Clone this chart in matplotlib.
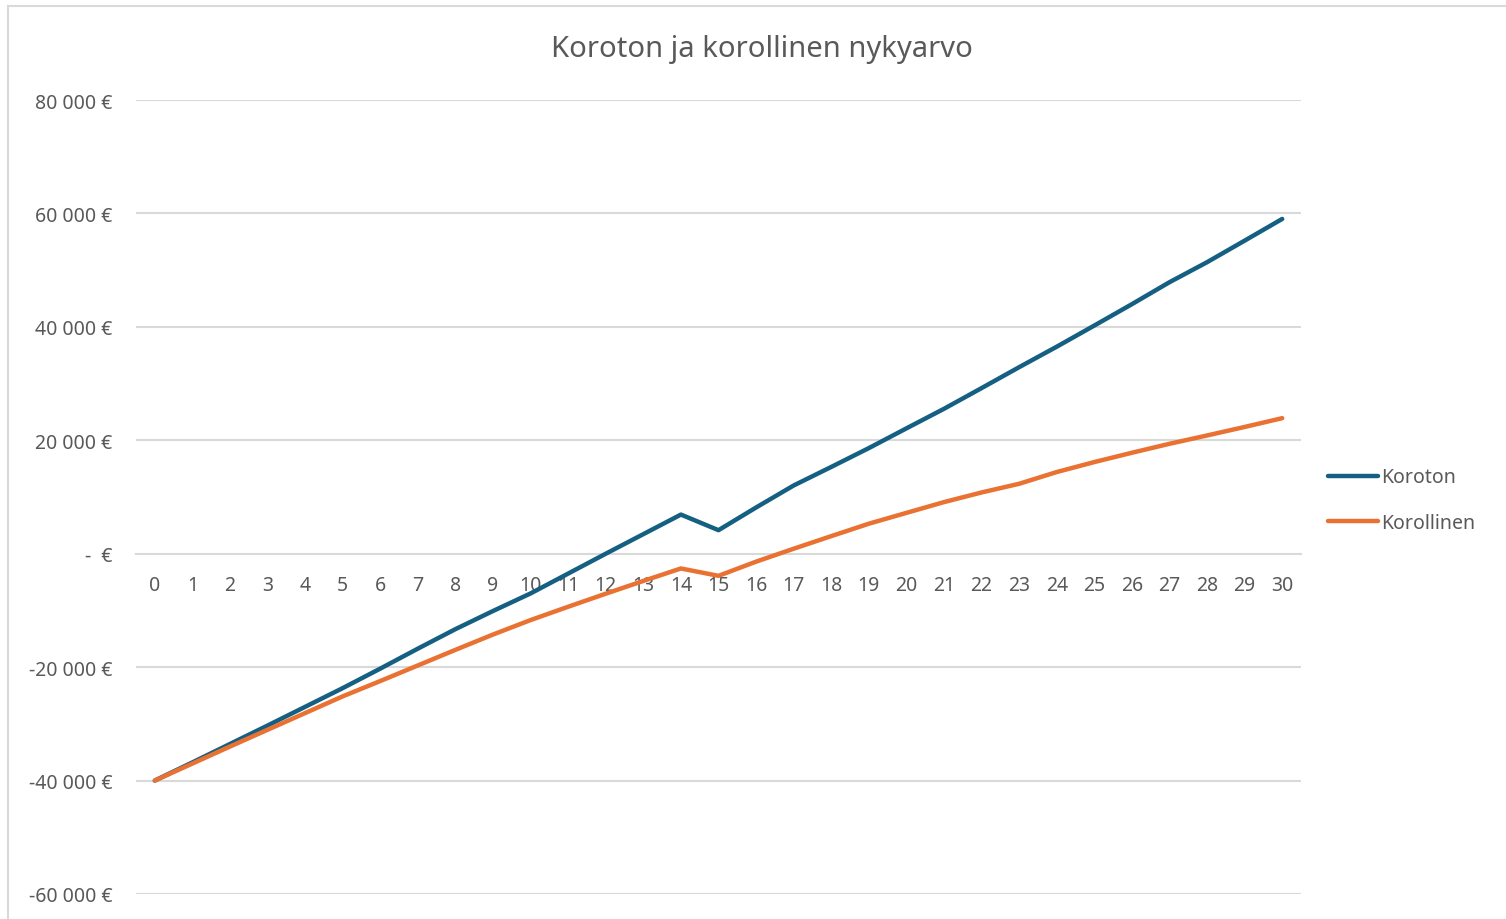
import matplotlib
matplotlib.use("Agg")
import matplotlib.pyplot as plt
from matplotlib.lines import Line2D

years = list(range(0, 31))
koroton = [-40000, -36800, -33550, -30300, -27000, -23700, -20260, -16740, -13300, -10100,
           -7000, -3500, 0, 3450, 6900, 4150, 8150, 12030, 15300, 18620,
           22100, 25550, 29200, 32890, 36500, 40230, 44000, 47870, 51400, 55200, 59030]
korollinen = [-40000, -37000, -34000, -31050, -28100, -25150, -22450, -19700, -16950, -14250,
              -11700, -9350, -7050, -4800, -2600, -3900, -1400, 880, 3100, 5290,
              7200, 9100, 10800, 12330, 14400, 16160, 17800, 19380, 20850, 22350, 23900]
yticks = [-60000, -40000, -20000, 0, 20000, 40000, 60000, 80000]
series_names = ["Koroton", "Korollinen"]
title = "Koroton ja korollinen nykyarvo"

BLUE = "#156082"
ORANGE = "#E97132"
GRID = "#D9D9D9"
TXT = "#595959"

plt.rcParams['font.family'] = ['Noto Sans', 'DejaVu Sans']

W, H = 1506, 920
fig = plt.figure(figsize=(W / 100, H / 100), dpi=100)

# chart border (light gray)
fig.add_artist(Line2D([8 / W, 1505 / W], [1 - 7 / H, 1 - 7 / H], color="#D9D9D9", lw=1.5))
fig.add_artist(Line2D([8 / W, 8 / W], [0, 1 - 7 / H], color="#D9D9D9", lw=1.5))

ax = fig.add_axes([136 / W, 1 - 895 / H, (1301 - 136) / W, (895 - 101) / H])
ax.set_xlim(-0.5, 30.5)
ax.set_ylim(-60000, 80000)

for yv in yticks:
    if yv != 0:
        ax.axhline(yv, color=GRID, lw=1.5, zorder=1)

l1, = ax.plot(years, koroton, color=BLUE, lw=3.2, solid_capstyle='round', solid_joinstyle='round', zorder=3)
l2, = ax.plot(years, korollinen, color=ORANGE, lw=3.2, solid_capstyle='round', solid_joinstyle='round', zorder=3)

for s in ['top', 'right', 'left']:
    ax.spines[s].set_visible(False)
ax.spines['bottom'].set_position(('data', 0))
ax.spines['bottom'].set_color(GRID)
ax.spines['bottom'].set_linewidth(1.5)
ax.spines['bottom'].set_zorder(1)

ax.set_xticks(years)
ax.set_xticklabels([str(y) for y in years])
ax.tick_params(axis='x', length=0, pad=15.5, labelsize=14, labelcolor=TXT)


def fmt(v):
    if v == 0:
        return "-  €"
    s = f"{abs(v):,}".replace(",", " ")
    return ("-" if v < 0 else "") + s + " €"


ax.set_yticks(yticks)
ax.set_yticklabels([fmt(v) for v in yticks])
ax.tick_params(axis='y', length=0, pad=17, labelsize=14, labelcolor=TXT)

fig.text(762 / W, 1 - 50 / H, title, ha='center', va='center', fontsize=21, color=TXT)

leg = fig.legend([l1, l2], series_names, loc='center left',
                 bbox_to_anchor=(1310 / W, 1 - 501 / H), frameon=False,
                 fontsize=14, labelcolor=TXT, handlelength=2.6, handletextpad=0.15,
                 labelspacing=1.3)
for t in leg.get_texts():
    t.set_color(TXT)

fig.savefig("out.png", dpi=100, facecolor="white")
